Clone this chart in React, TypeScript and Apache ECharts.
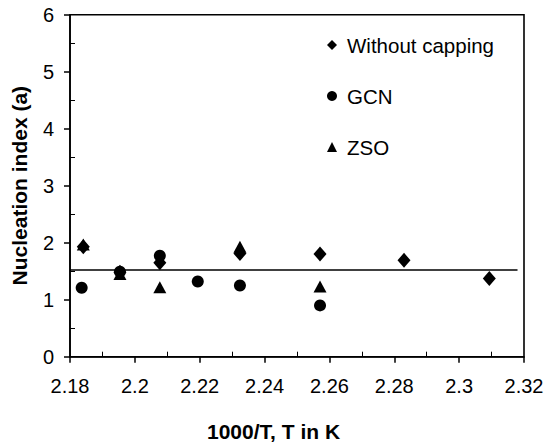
import React, { useEffect, useRef } from "react";
import * as echarts from "echarts";

const xWithout = [2.1841, 2.1954, 2.2077, 2.2324, 2.2571, 2.283, 2.3093];
const yWithout = [1.93, 1.48, 1.65, 1.81, 1.8, 1.69, 1.37];
const xGCN = [2.1836, 2.1954, 2.2077, 2.2194, 2.2324, 2.2571];
const yGCN = [1.21, 1.49, 1.77, 1.32, 1.25, 0.9];
const xZSO = [2.1841, 2.1954, 2.2077, 2.2324, 2.2571];
const yZSO = [1.97, 1.45, 1.22, 1.93, 1.23];
const meanX = [2.18, 2.318];
const meanY = [1.52, 1.52];
const xMinor = [2.19, 2.21, 2.23, 2.25, 2.27, 2.29, 2.31];
const yMinor = [0.5, 1.5, 2.5, 3.5, 4.5, 5.5];

const FONT = "Liberation Sans, Arial, sans-serif";

const zip = (xs: number[], ys: number[]) => xs.map((x, i) => [x, ys[i]]);

export default function App() {
  const ref = useRef<HTMLDivElement>(null);
  useEffect(() => {
    if (!ref.current) return;
    const chart = echarts.init(ref.current, undefined, { renderer: "svg" });
    const axisLine = { show: true, lineStyle: { color: "#000", width: 1.6 } };
    const marker = { color: "#000", opacity: 1 };
    chart.setOption({
      animation: false,
      backgroundColor: "#fff",
      textStyle: { fontFamily: FONT },
      grid: {
        left: 70,
        top: 14.7,
        right: 23,
        bottom: 89.3,
        show: true,
        borderColor: "#000",
        borderWidth: 1.6,
        backgroundColor: "transparent",
      },
      legend: {
        orient: "vertical",
        left: 327,
        top: 34.5,
        itemGap: 30,
        itemWidth: 10,
        itemHeight: 10,
        padding: 0,
        itemStyle: { opacity: 1, color: "#000" },
        textStyle: { fontFamily: FONT, fontSize: 20.5, color: "#000", padding: [0, 0, 0, 5] },
        data: [
          { name: "Without capping", icon: "diamond" },
          { name: "GCN", icon: "circle" },
          { name: "ZSO", icon: "triangle" },
        ],
      },
      xAxis: [
        {
          type: "value",
          min: 2.18,
          max: 2.32,
          interval: 0.02,
          axisLine,
          axisTick: { show: true, inside: false, length: 6, lineStyle: { color: "#000", width: 1.5 } },
          axisLabel: {
            color: "#000",
            fontSize: 20,
            fontFamily: FONT,
            margin: 19,
            formatter: (v: number) => String(Number(v.toFixed(2))),
          },
          splitLine: { show: false },
        },
        {
          type: "value",
          min: 2.18,
          max: 2.32,
          position: "bottom",
          axisLine: { show: false },
          axisTick: { show: true, inside: true, length: 5, customValues: xMinor, lineStyle: { color: "#000", width: 1 } },
          axisLabel: { show: false },
          splitLine: { show: false },
        },
      ],
      yAxis: [
        {
          type: "value",
          min: 0,
          max: 6,
          interval: 1,
          axisLine,
          axisTick: { show: true, inside: false, length: 6, lineStyle: { color: "#000", width: 1.5 } },
          axisLabel: { color: "#000", fontSize: 20, fontFamily: FONT, margin: 16 },
          splitLine: { show: false },
          name: "Nucleation index (a)",
          nameLocation: "middle",
          nameGap: 40,
          nameRotate: 90,
          nameTextStyle: { color: "#000", fontSize: 21, fontWeight: "bold", fontFamily: FONT },
        },
        {
          type: "value",
          min: 0,
          max: 6,
          position: "left",
          axisLine: { show: false },
          axisTick: { show: true, inside: true, length: 5, customValues: yMinor, lineStyle: { color: "#000", width: 1 } },
          axisLabel: { show: false },
          splitLine: { show: false },
        },
      ],
      graphic: [
        {
          type: "text",
          left: 207,
          top: 421,
          style: { text: "1000/T, T in K", fill: "#000", font: `bold 21px ${FONT}` },
        },
      ],
      series: [
        {
          name: "Mean",
          type: "line",
          data: zip(meanX, meanY),
          showSymbol: false,
          symbol: "none",
          lineStyle: { color: "#000", width: 1.6 },
          z: 1,
        },
        {
          name: "GCN",
          type: "scatter",
          symbol: "circle",
          symbolSize: 12,
          itemStyle: marker,
          data: zip(xGCN, yGCN),
        },
        {
          name: "Without capping",
          type: "scatter",
          symbol: "diamond",
          symbolSize: [13, 15],
          itemStyle: marker,
          data: zip(xWithout, yWithout),
        },
        {
          name: "ZSO",
          type: "scatter",
          symbol: "triangle",
          symbolSize: [13, 12],
          itemStyle: marker,
          data: zip(xZSO, yZSO),
        },
      ],
    });
    return () => chart.dispose();
  }, []);
  return (
    <div
      ref={ref}
      style={{ position: "fixed", left: 0, top: 0, width: 547, height: 446 }}
    />
  );
}
